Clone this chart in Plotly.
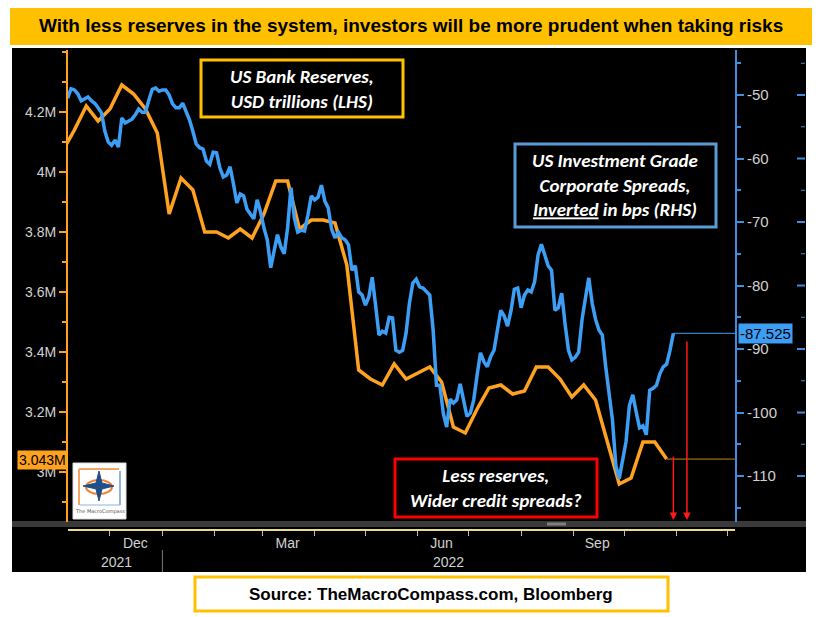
import plotly.graph_objects as go
import pandas as pd

# ---------------- data ----------------
# US bank reserves (USD trillions, shown as "M" on Bloomberg axis), weekly (Wednesdays)
reserve_last_date = "2022-10-26"
reserves = [4.07, 4.14, 4.22, 4.17, 4.21, 4.29, 4.26, 4.21, 4.13, 3.86,
            3.98, 3.94, 3.80, 3.80, 3.78, 3.81, 3.78, 3.86, 3.97, 3.97,
            3.81, 3.84, 3.84, 3.83, 3.69, 3.34, 3.31, 3.29, 3.36, 3.31,
            3.33, 3.35, 3.30, 3.15, 3.13, 3.21, 3.28, 3.29, 3.26, 3.27,
            3.35, 3.35, 3.31, 3.25, 3.29, 3.24, 3.10, 2.96, 2.98, 3.10,
            3.10, 3.043]
reserve_dates = pd.date_range(end=reserve_last_date, periods=len(reserves), freq="7D")

# US IG corporate spreads, inverted (bps), sampled every 2 days
spread_first_date = "2021-11-06"
spreads = [-50.5, -49.0, -49.2, -49.8, -50.9, -50.6, -50.3, -50.9, -51.3, -52.0,
           -52.8, -55.7, -57.4, -57.9, -57.1, -58.2, -53.6, -54.4, -54.1, -53.8,
           -53.1, -52.2, -52.7, -52.7, -50.8, -49.1, -48.9, -49.4, -49.2, -49.2,
           -50.0, -51.4, -52.0, -52.0, -51.3, -52.7, -53.9, -55.7, -57.7, -58.3,
           -58.5, -60.4, -60.9, -59.0, -59.1, -61.5, -62.9, -62.6, -61.3, -64.0,
           -67.0, -65.6, -65.9, -68.0, -68.7, -69.5, -66.5, -68.4, -70.9, -72.8,
           -77.2, -74.9, -72.0, -73.9, -75.0, -70.9, -64.6, -69.4, -71.6, -71.3,
           -71.4, -68.9, -65.9, -66.5, -66.1, -64.2, -66.7, -67.8, -71.1, -72.5,
           -71.6, -72.5, -72.8, -73.6, -77.6, -76.9, -81.0, -81.5, -83.1, -81.8,
           -78.7, -83.1, -87.8, -87.2, -87.5, -85.0, -85.1, -90.2, -90.5, -90.2,
           -87.5, -82.8, -79.6, -79.0, -80.2, -80.4, -81.0, -81.5, -87.0, -95.7,
           -95.7, -100.1, -102.3, -97.9, -98.5, -98.0, -95.5, -98.3, -100.6, -100.1,
           -98.0, -94.1, -90.6, -92.0, -92.8, -91.2, -90.2, -87.0, -83.9, -84.8,
           -86.4, -84.0, -80.6, -80.4, -83.5, -81.5, -80.7, -81.0, -79.4, -75.2,
           -73.5, -75.2, -76.9, -77.6, -83.9, -83.5, -81.2, -86.1, -90.2, -91.7,
           -91.3, -90.5, -85.4, -82.0, -78.8, -82.8, -85.3, -87.0, -87.8, -92.8,
           -97.1, -101.2, -108.4, -110.4, -107.5, -104.6, -98.9, -97.2, -99.9, -102.4,
           -102.1, -103.5, -96.5, -96.2, -95.7, -93.9, -92.8, -92.4, -90.2, -87.525]
spread_dates = pd.date_range(start=spread_first_date, periods=len(spreads), freq="2D")

left_tickvals = [3.0, 3.2, 3.4, 3.6, 3.8, 4.0, 4.2]
left_ticktext = ["3M", "3.2M", "3.4M", "3.6M", "3.8M", "4M", "4.2M"]
right_tickvals = [-110, -100, -90, -80, -70, -60, -50]
right_ticktext = [str(v) for v in right_tickvals]
month_tickvals = ["2021-12-16", "2022-03-16", "2022-06-15", "2022-09-15"]
month_ticktext = ["Dec", "Mar", "Jun", "Sep"]
year_labels = ["2021", "2022"]
year_positions = ["2021-12-05", "2022-06-19"]
year_break = "2022-01-01"
arrow_dates = ["2022-10-30", "2022-11-07"]

x_range = ["2021-11-06 05:00", "2022-12-05 10:00"]
left_range = [2.8333, 4.4067]
right_range = [-117.24, -42.91]

# ---------------- layout helpers ----------------
# The page body has an 8px margin, so the figure is drawn from (8, 8).
OFF = 8
PAGE_W, PAGE_H = 823, 617
W, H = PAGE_W - OFF, PAGE_H - OFF
PL, PR, PT, PB = 68, 735, 50, 530   # plot area in page pixels


def px(x):
    return (x - PL) / (PR - PL)


def py(y):
    return (PB - y) / (PB - PT)


ORANGE = "#ffa21f"
BLUE = "#3d9ef5"
AXBLUE = "#3b8ee0"
TICKC = "#d2d2d2"
AXFONT = "Liberation Sans Narrow, Arial Narrow, Liberation Sans, sans-serif"
BOXFONT = "Carlito, Open Sans, sans-serif"

fig = go.Figure()

fig.add_trace(go.Scatter(x=spread_dates, y=spreads, yaxis="y2", mode="lines",
                         line=dict(color=BLUE, width=3.5), hoverinfo="skip"))
fig.add_trace(go.Scatter(x=reserve_dates, y=reserves, yaxis="y", mode="lines",
                         line=dict(color=ORANGE, width=3.5), hoverinfo="skip"))
# last value guide lines
fig.add_trace(go.Scatter(x=[spread_dates[-1], x_range[1]], y=[spreads[-1]] * 2, yaxis="y2",
                         mode="lines", line=dict(color=BLUE, width=1), hoverinfo="skip"))
fig.add_trace(go.Scatter(x=[reserve_dates[-1], x_range[1]], y=[reserves[-1]] * 2, yaxis="y",
                         mode="lines", line=dict(color="#c8841a", width=1), hoverinfo="skip"))

shapes = []


def rect(x0, y0, x1, y1, fill, line_color=None, lw=0, layer="below"):
    shapes.append(dict(type="rect", xref="paper", yref="paper",
                       x0=px(x0), x1=px(x1), y0=py(y1), y1=py(y0),
                       fillcolor=fill, layer=layer,
                       line=dict(color=line_color or fill, width=lw)))


def line(x0, y0, x1, y1, color, width):
    shapes.append(dict(type="line", xref="paper", yref="paper", x0=px(x0), x1=px(x1),
                       y0=py(y0), y1=py(y1), line=dict(color=color, width=width), layer="above"))


# black panel, title and source boxes
rect(12, 48, 806, 572, "black")
rect(10, 7, 812, 45, "#ffc000")
rect(195, 577, 668, 611, "white", "#ffc000", 3)
# scroll bar
rect(12, 521, 806, 527, "#3a3a3a")
rect(547, 522.5, 566, 525.5, "#808080")
# text boxes
rect(201, 60, 403, 117, "black", "#ffc000", 3, "above")
rect(515, 144, 716, 227, "black", "#5b9bd5", 3, "above")
rect(395, 459, 597, 517, "black", "#ff0000", 3, "above")
# logo
rect(73, 463, 126, 519, "white", "#dddddd", 1, "above")
line(79, 469, 79, 505, "#f4a460", 2)
line(79, 469, 119, 469, "#f4a460", 2)
line(120, 471, 120, 505, "#8fb3d9", 2)
line(80, 505, 120, 505, "#8fb3d9", 1)
shapes.append(dict(type="circle", xref="paper", yref="paper", x0=px(86), x1=px(112), y0=py(494), y1=py(480),
                   line=dict(color="#f08030", width=2), layer="above"))
cx, cy = 99, 486
star = [(cx, 471), (cx + 3, cy - 3), (114, cy), (cx + 3, cy + 3), (cx, 501), (cx - 3, cy + 3), (83, cy), (cx - 3, cy - 3)]
path = "M " + " L ".join(f"{px(a):.5f},{py(b):.5f}" for a, b in star) + " Z"
shapes.append(dict(type="path", xref="paper", yref="paper", path=path, fillcolor="#1f4e89",
                   line=dict(color="#1f4e89", width=1), layer="above"))
# year separator on the axis
shapes.append(dict(type="line", xref="x", yref="paper", x0=year_break, x1=year_break,
                   y0=py(550), y1=py(572), line=dict(color="#777777", width=1), layer="above"))
# second (outer) set of right-axis tick marks at the panel edge
for v in right_tickvals:
    shapes.append(dict(type="line", xref="paper", yref="y2", x0=px(797), x1=px(805), y0=v, y1=v,
                       line=dict(color=AXBLUE, width=2), layer="above"))
    shapes.append(dict(type="line", xref="paper", yref="y2", x0=px(801), x1=px(805), y0=v + 5, y1=v + 5,
                       line=dict(color=AXBLUE, width=1), layer="above"))


def text(t, x, y, size, color, family, **kw):
    d = dict(text=t, x=px(x), y=py(y), xref="paper", yref="paper", showarrow=False,
             xanchor="center", yanchor="middle",
             font=dict(family=family, size=size, color=color, **kw))
    return d


annotations = [
    text("<b>With less reserves in the system, investors will be more prudent when taking risks</b>",
         411, 26, 19, "black", "Liberation Sans, Arial, sans-serif"),
    text("<b>Source: TheMacroCompass.com, Bloomberg</b>", 431, 594, 17, "black",
         "Liberation Sans, Arial, sans-serif"),
    text("<i>US Bank Reserves,<br>USD trillions (LHS)</i>", 302, 89, 19, "white", BOXFONT, weight=600),
    text("<i>US Investment Grade<br>Corporate Spreads,<br><u>Inverted</u> in bps (RHS)</i>",
         615, 185, 19, "white", BOXFONT, weight=600),
    text("<i>Less reserves,<br>Wider credit spreads?</i>", 496, 488, 19, "white", BOXFONT, weight=600),
    text("The MacroCompass", 99.5, 511, 5, "#555555", "DejaVu Sans"),
    dict(text=f"{reserves[-1]:.3f}M", x=0, xref="paper", xanchor="right", y=reserves[-1], yref="y",
         yanchor="middle", yshift=-1, showarrow=False, bgcolor=ORANGE, borderpad=1,
         font=dict(family=AXFONT, size=14, color="black")),
    dict(text=f"{spreads[-1]:.3f}", x=1, xref="paper", xanchor="left", xshift=3, y=spreads[-1], yref="y2",
         yanchor="middle", showarrow=False, bgcolor=BLUE, borderpad=1,
         font=dict(family=AXFONT, size=15, color="black")),
]
for lab, pos in zip(year_labels, year_positions):
    annotations.append(dict(text=lab, x=pos, xref="x", y=py(562), yref="paper", showarrow=False,
                            xanchor="center", yanchor="middle",
                            font=dict(family=AXFONT, size=14, color=TICKC)))
arrow_tails = [455, 340]
for d, tail in zip(arrow_dates, arrow_tails):
    annotations.append(dict(text="", x=d, xref="x", y=py(520), yref="paper", ax=0, ay=-(520 - tail),
                            showarrow=True, arrowhead=2, arrowsize=1, arrowwidth=1.5, arrowcolor="#ff1a1a"))

fig.update_layout(
    width=W, height=H,
    margin=dict(l=PL - OFF, r=W - (PR - OFF), t=PT - OFF, b=H - (PB - OFF)),
    paper_bgcolor="white", plot_bgcolor="rgba(0,0,0,0)",
    showlegend=False,
    shapes=shapes, annotations=annotations,
    xaxis=dict(type="date", range=x_range, anchor="free", position=0,
               showline=True, linecolor="#e8dc8a", linewidth=2, showgrid=False, zeroline=False,
               tickmode="array", tickvals=month_tickvals, ticktext=month_ticktext, ticks="",
               tickfont=dict(family=AXFONT, size=14, color=TICKC),
               minor=dict(tickmode="linear", tick0="2021-12-01", dtick="M1", ticks="outside",
                          ticklen=5, tickwidth=1, tickcolor="#bbbbbb", showgrid=False)),
    yaxis=dict(range=left_range, domain=[py(522), 1], showline=True, linecolor=ORANGE, linewidth=2,
               showgrid=False, zeroline=False, ticks="outside", ticklen=7, tickwidth=2, tickcolor=ORANGE,
               tickmode="array", tickvals=left_tickvals, ticktext=left_ticktext,
               tickfont=dict(family=AXFONT, size=14, color=TICKC),
               minor=dict(tickmode="linear", tick0=3.0, dtick=0.1, ticks="outside", ticklen=4,
                          tickcolor=ORANGE, showgrid=False)),
    yaxis2=dict(range=right_range, overlaying="y", side="right", anchor="x", showline=True,
                linecolor=AXBLUE, linewidth=2, showgrid=False, zeroline=False,
                ticks="outside", ticklen=7, tickwidth=2, tickcolor=AXBLUE,
                tickmode="array", tickvals=right_tickvals, ticktext=right_ticktext,
                tickfont=dict(family=AXFONT, size=15, color=TICKC),
                minor=dict(tickmode="linear", tick0=-50, dtick=5, ticks="outside", ticklen=4,
                           tickcolor=AXBLUE, showgrid=False)),
)

fig.write_html("out.html")
